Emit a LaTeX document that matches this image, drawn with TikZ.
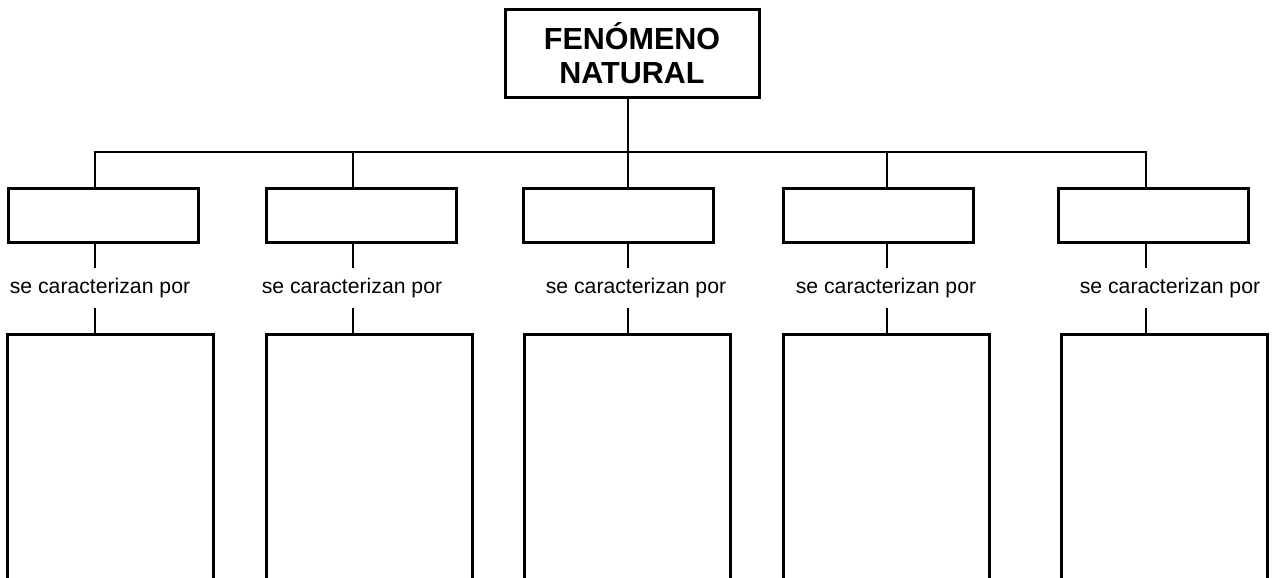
\documentclass[tikz,border=0pt]{standalone}
\usepackage{fontspec}
\setmainfont{Liberation Sans}
\tikzset{
  caja/.style = {draw, line width = 3pt, rectangle, inner sep = 0pt},
  enlace/.style = {line width = 2.4pt},
}

\begin{document}
\begin{tikzpicture}[x = 1pt, y = -1pt]
\useasboundingbox (0, 0) rectangle (1277, 578);
\clip (0, 0) rectangle (1277, 578);
\node[caja, minimum width = 254, minimum height = 87, align = center, font = \fontsize{30.5}{34}\selectfont\bfseries] (fen) at (632, 53.5) {FENÓMENO\\NATURAL};
% one column per type of phenomenon
\foreach \i/\lx/\bx/\tx/\dx in {1/95/103/100/110.5, 2/353/361/352/369, 3/628/618.5/636/627.5, 4/887/878/886/886.5, 5/1146/1153.5/1170/1164.5} {
  \coordinate (b\i) at (\lx, 152);
  \node[caja, minimum width = 190, minimum height = 54] (tipo\i) at (\bx, 215) {};
  \node[font = \fontsize{21.2}{25}\selectfont, minimum height = 40, inner sep = 0pt] (carac\i) at (\tx, 288) {se caracterizan por};
  \node[caja, minimum width = 206, minimum height = 300, anchor = north] (desc\i) at (\dx, 333) {};
  \draw[enlace] (b\i |- tipo\i.south) -- (b\i |- carac\i.north);
  \draw[enlace] (b\i |- carac\i.south) -- (b\i |- desc\i.north);
}
\draw[enlace] (b3 |- fen.south) -- (b3);
\draw[enlace] (b1 |- tipo1.north) -- (b1) -- (b5) -- (b5 |- tipo5.north);
\foreach \i in {2, 3, 4} \draw[enlace] (b\i) -- (b\i |- tipo\i.north);
\end{tikzpicture}
\end{document}
